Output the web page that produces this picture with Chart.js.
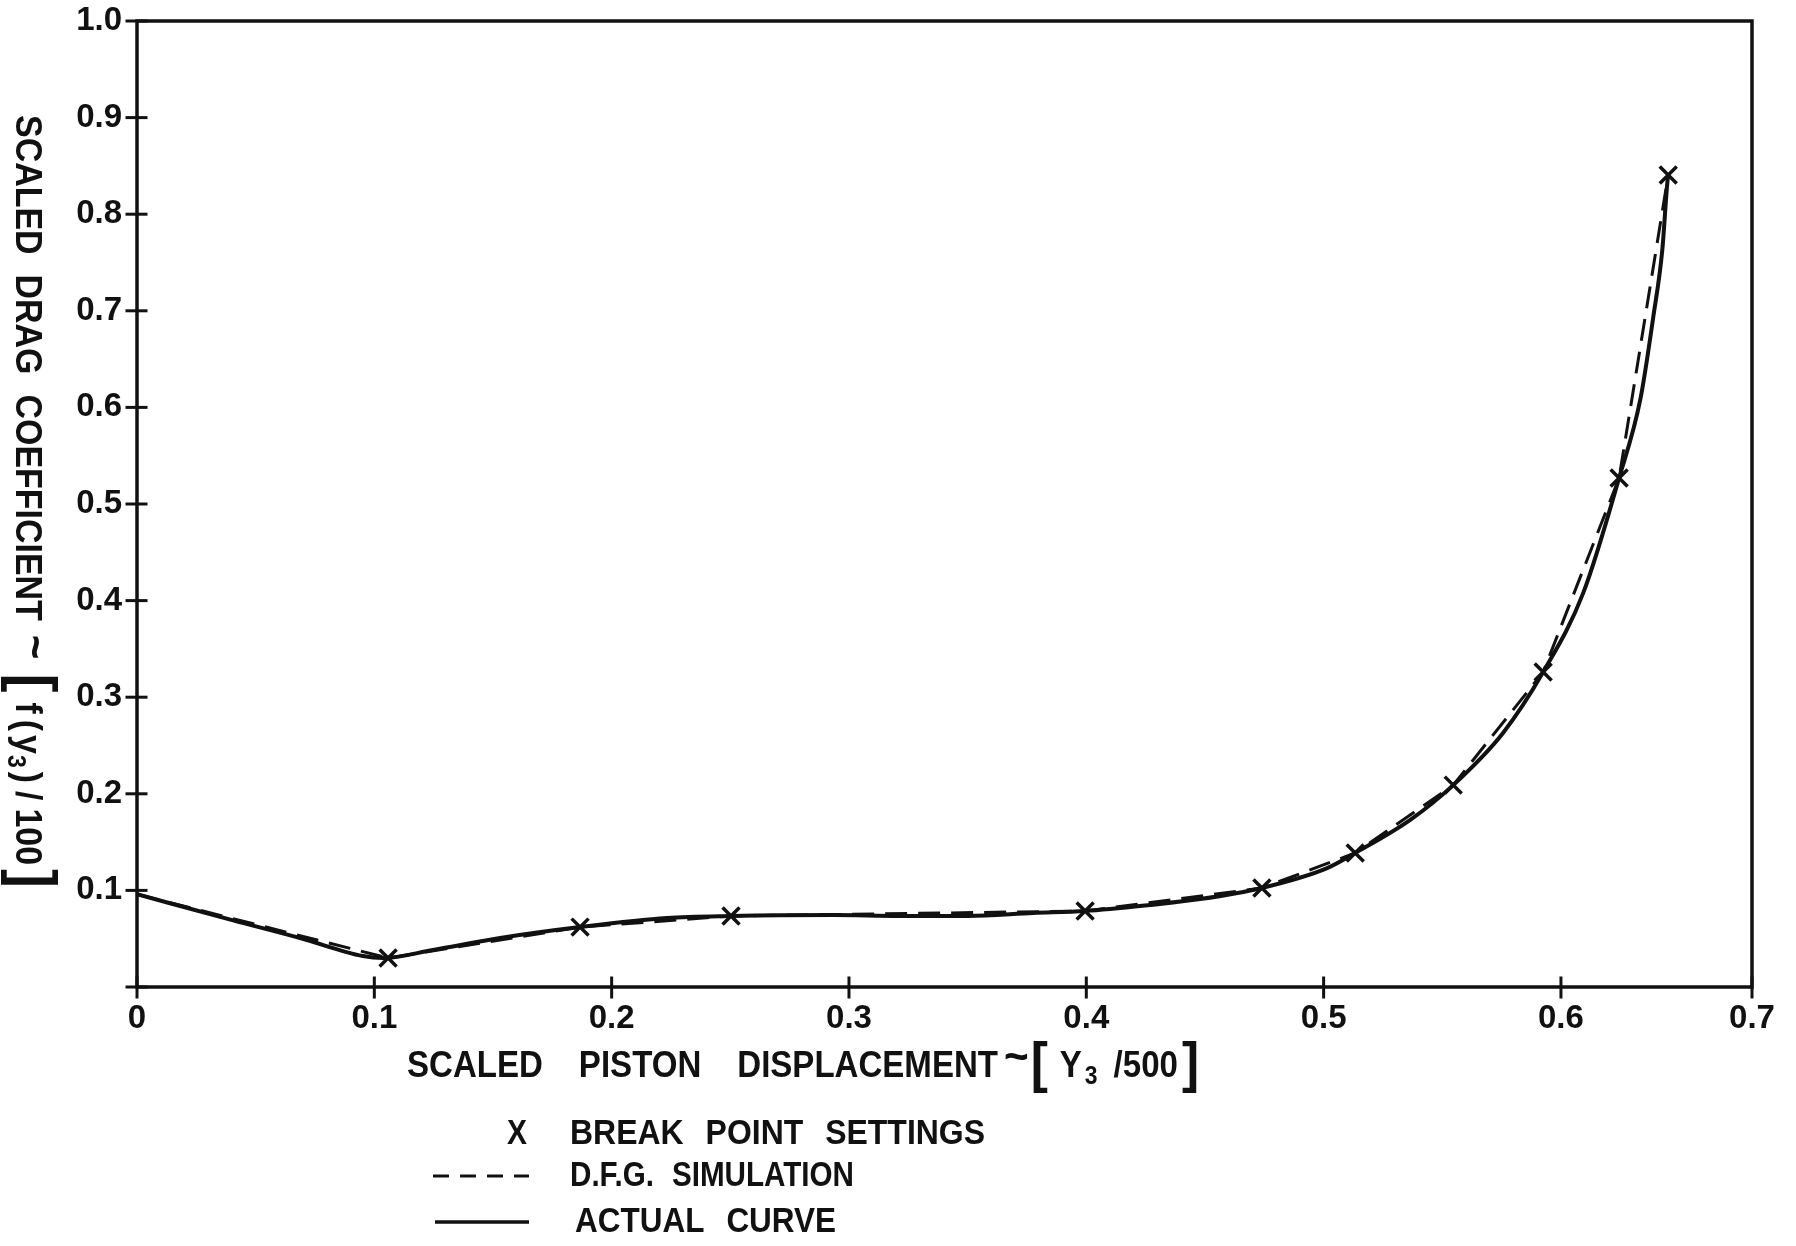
<!DOCTYPE html>
<html>
<head>
<meta charset="utf-8">
<title>Scaled drag coefficient vs scaled piston displacement</title>
<script src="https://cdn.jsdelivr.net/npm/chart.js@4.4.0/dist/chart.umd.min.js"></script>
<style>
	html, body { margin: 0; padding: 0; background: #fff; }
	#wrap { width: 1796px; height: 1246px; }
</style>
</head>
<body>
<div id="wrap"><canvas id="appChart" width="1796" height="1246"></canvas></div>
<script>
// 축 눈금
//--------------------------------------------------------//
// the hand drawn x axis has a short last interval: "0.7" sits at ~0.68 on the 0.1 grid
const xTickValues = [0, 0.1, 0.2, 0.3, 0.4, 0.5, 0.6, 0.6805];
const xTickLabels = ['0', '0.1', '0.2', '0.3', '0.4', '0.5', '0.6', '0.7'];
const yTickValues = [0, 0.1, 0.2, 0.3, 0.4, 0.5, 0.6, 0.7, 0.8, 0.9, 1.0];
const yTickLabels = ['', '0.1', '0.2', '0.3', '0.4', '0.5', '0.6', '0.7', '0.8', '0.9', '1.0'];

// 데이터
//--------------------------------------------------------//
// actual curve (solid)
const actualX = [0, 0.0405, 0.0687, 0.0952, 0.1037, 0.1247, 0.153, 0.1867, 0.2233, 0.2503,
                 0.2933, 0.3215, 0.35, 0.3776, 0.3995, 0.427, 0.448, 0.474, 0.5015, 0.5133,
                 0.5365, 0.5546, 0.5756, 0.5925, 0.6094, 0.6245, 0.6334, 0.6389, 0.6427, 0.6448, 0.6452];
const actualY = [0.096, 0.069, 0.0507, 0.032, 0.030, 0.0383, 0.0507, 0.062, 0.0714, 0.0735,
                 0.0745, 0.0735, 0.0735, 0.0766, 0.0787, 0.085, 0.091, 0.1025, 0.123, 0.1387,
                 0.173, 0.209, 0.263, 0.326, 0.408, 0.527, 0.6077, 0.6936, 0.763, 0.832, 0.8406];

// break point settings (X)
const breakX = [0.1058, 0.1867, 0.2503, 0.3995, 0.474, 0.5133, 0.5546, 0.5925, 0.6245, 0.6452];
const breakY = [0.030, 0.062, 0.0735, 0.0787, 0.1025, 0.1387, 0.209, 0.326, 0.527, 0.8406];

// D.F.G. simulation (dashed, straight segments between break points)
const dfgX = [0, 0.1058, 0.1867, 0.2503, 0.3995, 0.474, 0.5133, 0.5546, 0.5925, 0.6245, 0.6452];
const dfgY = [0.096, 0.030, 0.062, 0.0735, 0.0787, 0.1025, 0.1387, 0.209, 0.326, 0.527, 0.8406];

const FONT = '"Liberation Sans", Arial, sans-serif';
const INK = '#111';

let toPoints = function(xs, ys) {
	return xs.map(function(x, i) { return {x: x, y: ys[i]}; });
};

// 텍스트 조각을 이어서 그림 (전체 폭을 width 에 맞추도록 글자를 가로로 눌러 씀)
let drawRuns = function(ctx, x, y, runs, width) {
	let natural = 0, gaps = 0;
	runs.forEach(function(r) {
		ctx.font = 'bold ' + r.s + 'px ' + FONT;
		natural += ctx.measureText(r.t).width;
		gaps += (r.gap || 0);
	});
	let sx = width ? (width - gaps) / natural : 1;
	runs.forEach(function(r) {
		ctx.font = 'bold ' + r.s + 'px ' + FONT;
		ctx.save();
		ctx.translate(x, y + (r.dy || 0));
		ctx.scale(sx, 1);
		ctx.fillText(r.t, 0, 0);
		ctx.restore();
		x += ctx.measureText(r.t).width * sx + (r.gap || 0);
	});
};

// 프레임, 눈금, 축제목, 범례
const paperPlugin = {
	id: 'paper',
	afterDraw: function(chart) {
		let ctx = chart.ctx;
		let a = chart.chartArea;
		let xs = chart.scales.x, ys = chart.scales.y;
		ctx.save();
		ctx.strokeStyle = INK;
		ctx.fillStyle = INK;
		ctx.lineCap = 'square';

		// frame
		ctx.lineWidth = 3.5;
		ctx.strokeRect(a.left, a.top, a.right - a.left, a.bottom - a.top);

		// tick marks crossing the axes
		ctx.lineWidth = 3;
		xs.ticks.forEach(function(t) {
			let px = xs.getPixelForValue(t.value);
			ctx.beginPath(); ctx.moveTo(px, a.bottom - 9); ctx.lineTo(px, a.bottom + 10); ctx.stroke();
		});
		ys.ticks.forEach(function(t) {
			let py = ys.getPixelForValue(t.value);
			ctx.beginPath(); ctx.moveTo(a.left - 10, py); ctx.lineTo(a.left + 9, py); ctx.stroke();
		});

		// x axis title
		ctx.textBaseline = 'alphabetic';
		ctx.textAlign = 'left';
		drawRuns(ctx, 407, 1077, [
			{t: 'SCALED', s: 36, gap: 36},
			{t: 'PISTON', s: 36, gap: 36},
			{t: 'DISPLACEMENT', s: 36, gap: 6},
			{t: '~', s: 46, dy: -5, gap: 2},
			{t: '[', s: 56, dy: 4, gap: 12},
			{t: 'Y', s: 36, gap: 3},
			{t: '3', s: 25, dy: 7, gap: 16},
			{t: '/500', s: 36, gap: 4},
			{t: ']', s: 56, dy: 4}
		], 792);

		// y axis title (rotated clockwise)
		ctx.save();
		ctx.translate(16, 115);
		ctx.rotate(Math.PI / 2);
		drawRuns(ctx, 0, 0, [
			{t: 'SCALED', s: 37, gap: 20},
			{t: 'DRAG', s: 37, gap: 20},
			{t: 'COEFFICIENT', s: 37, gap: 14},
			{t: '~', s: 46, dy: -4, gap: 14},
			{t: '[', s: 62, dy: 2, gap: 10},
			{t: 'f', s: 37, gap: 6},
			{t: '(', s: 37, gap: 4},
			{t: 'y', s: 37, gap: 1},
			{t: '3', s: 25, dy: 8, gap: 4},
			{t: ')', s: 37, gap: 8},
			{t: '/', s: 37, gap: 8},
			{t: '100', s: 37, gap: 4},
			{t: ']', s: 62, dy: 2}
		], 773);
		ctx.restore();

		// legend
		let rows = [1134, 1176, 1222];
		let dfg = chart.data.datasets[1];
		let act = chart.data.datasets[0];
		ctx.textBaseline = 'middle';
		drawRuns(ctx, 507, rows[0], [{t: 'X', s: 35}], 20);
		drawRuns(ctx, 570, rows[0], [
			{t: 'BREAK', s: 35, gap: 22}, {t: 'POINT', s: 35, gap: 22}, {t: 'SETTINGS', s: 35}
		], 415);

		ctx.lineCap = 'butt';
		ctx.lineWidth = dfg.borderWidth;
		ctx.setLineDash([16, 11]);
		ctx.beginPath(); ctx.moveTo(433, rows[1]); ctx.lineTo(529, rows[1]); ctx.stroke();
		ctx.setLineDash([]);
		drawRuns(ctx, 570, rows[1], [
			{t: 'D.F.G.', s: 35, gap: 18}, {t: 'SIMULATION', s: 35}
		], 284);

		ctx.lineWidth = act.borderWidth - 0.5;
		ctx.beginPath(); ctx.moveTo(435, rows[2]); ctx.lineTo(529, rows[2]); ctx.stroke();
		drawRuns(ctx, 575, rows[2], [
			{t: 'ACTUAL', s: 35, gap: 22}, {t: 'CURVE', s: 35}
		], 261);

		ctx.restore();
	}
};

let tickFont = {family: FONT, size: 33, weight: 'bold'};

new Chart(document.getElementById('appChart'), {
	type: 'scatter',
	data: {
		datasets: [{
			label: 'ACTUAL CURVE',
			data: toPoints(actualX, actualY),
			showLine: true,
			borderColor: INK,
			borderWidth: 4,
			pointRadius: 0,
			cubicInterpolationMode: 'monotone',
			order: 3
		}, {
			label: 'D.F.G. SIMULATION',
			data: toPoints(dfgX, dfgY),
			showLine: true,
			borderColor: INK,
			borderWidth: 3,
			borderDash: [22, 11],
			pointRadius: 0,
			tension: 0,
			order: 2
		}, {
			label: 'BREAK POINT SETTINGS',
			data: toPoints(breakX, breakY),
			showLine: false,
			pointStyle: 'crossRot',
			pointRadius: 12,
			borderColor: INK,
			borderWidth: 3.5,
			order: 1
		}]
	},
	options: {
		responsive: false,
		devicePixelRatio: 1,
		animation: false,
		layout: { padding: {left: 0, top: 21, right: 44, bottom: 0} },
		plugins: {
			legend: { display: false },
			tooltip: { enabled: false }
		},
		scales: {
			x: {
				type: 'linear',
				min: 0,
				max: xTickValues[xTickValues.length - 1],
				afterBuildTicks: function(s) { s.ticks = xTickValues.map(function(v) { return {value: v}; }); },
				afterFit: function(s) { s.height = 259; s.paddingLeft = 0; s.paddingRight = 0; },
				grid: { display: false, drawTicks: false },
				border: { display: false },
				ticks: {
					autoSkip: false, maxRotation: 0, padding: 12,
					color: INK, font: tickFont,
					callback: function(v, i) { return xTickLabels[i]; }
				}
			},
			y: {
				min: 0,
				max: 1,
				afterBuildTicks: function(s) { s.ticks = yTickValues.map(function(v) { return {value: v}; }); },
				afterFit: function(s) { s.width = 137; s.paddingTop = 0; s.paddingBottom = 0; },
				grid: { display: false, drawTicks: false },
				border: { display: false },
				ticks: {
					autoSkip: false, padding: 15,
					color: INK, font: tickFont,
					callback: function(v, i) { return yTickLabels[i]; }
				}
			}
		}
	},
	plugins: [paperPlugin]
});
</script>
</body>
</html>
